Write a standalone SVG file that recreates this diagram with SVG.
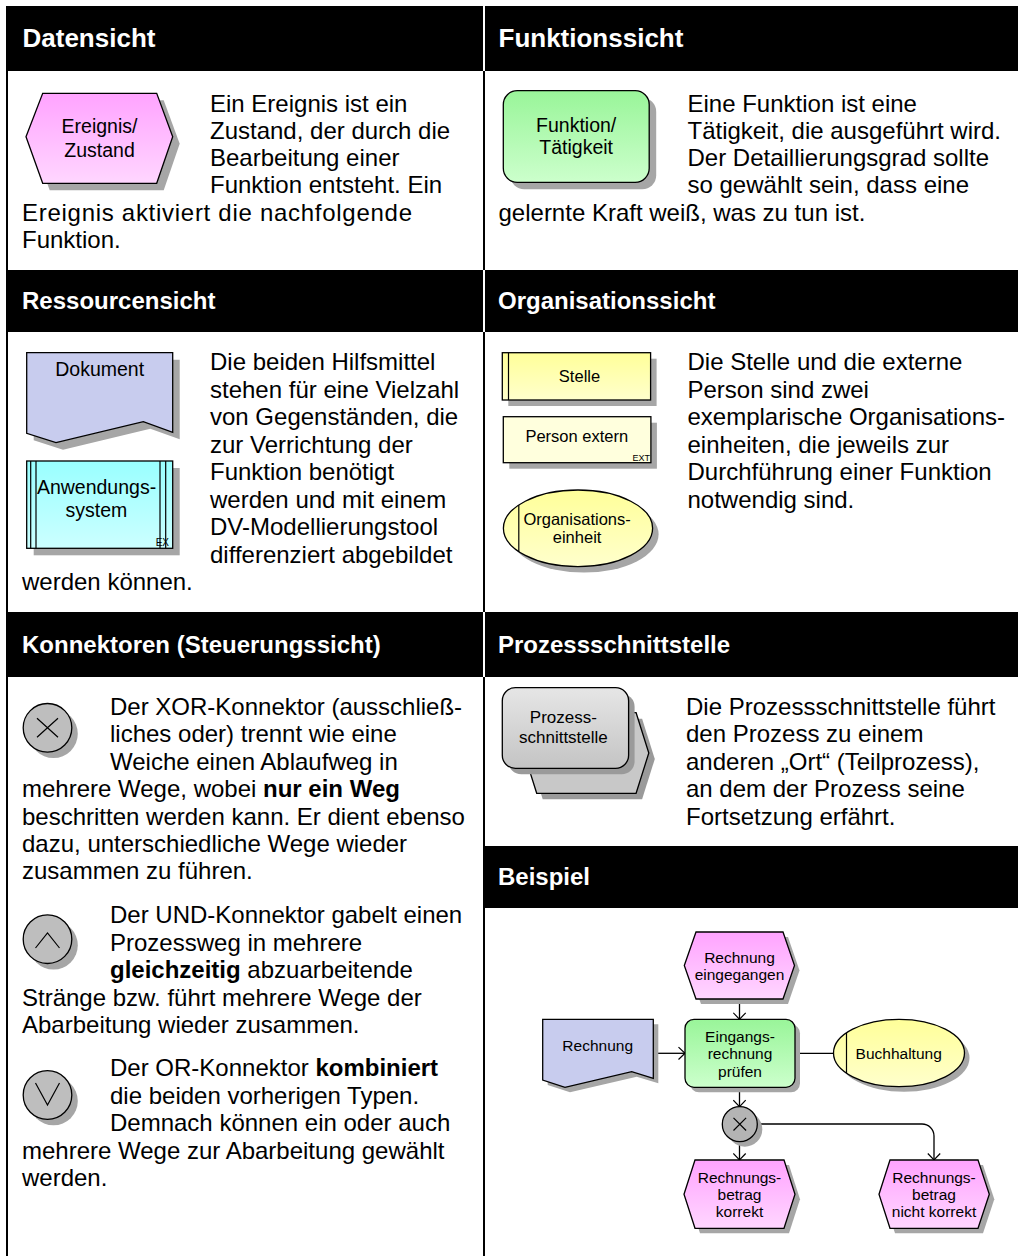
<svg xmlns="http://www.w3.org/2000/svg" width="1018" height="1256" viewBox="0 0 1018 1256">
<style>
text{font-family:"Liberation Sans",Arial,Helvetica,sans-serif;fill:#000}
.hd{font-size:24px;font-weight:bold;fill:#fff}
.hd1{font-size:26px}
.bd{font-size:24px}
.b{font-weight:bold}
.lb{font-size:19.5px;text-anchor:middle}
.lo{font-size:16.5px;text-anchor:middle}
.lp{font-size:17px;text-anchor:middle}
.lx{font-size:15.5px;text-anchor:middle}
.tiny{font-size:10px;text-anchor:end}
.sh{fill:#a6a6a6}
.sh2{fill:#9a9a9a}
.ol{stroke:#000;stroke-width:1.3}
.ln{stroke:#000;stroke-width:1.2;fill:none}
.cn{stroke:#000;stroke-width:1.3;fill:none}
.hb{fill:#000}
</style>
<defs>
<linearGradient id="gEv" x1="0" y1="0" x2="0" y2="1"><stop offset="0" stop-color="#ffa3ff"/><stop offset="1" stop-color="#ffd6ff"/></linearGradient>
<linearGradient id="gFn" x1="0" y1="0" x2="0" y2="1"><stop offset="0" stop-color="#99f599"/><stop offset="1" stop-color="#ccffcc"/></linearGradient>
<linearGradient id="gAp" x1="0" y1="0" x2="0" y2="1"><stop offset="0" stop-color="#99ffff"/><stop offset="1" stop-color="#ccffff"/></linearGradient>
<linearGradient id="gOr" x1="0" y1="0" x2="0" y2="1"><stop offset="0" stop-color="#ffff99"/><stop offset="1" stop-color="#ffffcc"/></linearGradient>
<linearGradient id="gPr" x1="0" y1="0" x2="0" y2="1"><stop offset="0" stop-color="#e6e6e6"/><stop offset="1" stop-color="#c4c4c4"/></linearGradient>
<marker id="arr" viewBox="0 0 8 14" refX="7.5" refY="7" markerWidth="8" markerHeight="14" markerUnits="userSpaceOnUse" orient="auto">
<path d="M1,0.8 L7.5,7 L1,13.2" fill="none" stroke="#000" stroke-width="1.2"/>
</marker>
</defs>

<rect width="1018" height="1256" fill="#fff"/>

<g id="frame">
<rect x="6" y="6" width="2" height="1250" class="hb"/>
<rect x="483" y="71" width="2" height="199" class="hb"/>
<rect x="483" y="332" width="2" height="280" class="hb"/>
<rect x="483" y="677" width="2" height="579" class="hb"/>
</g>

<g id="headers">
<rect x="6" y="6" width="477" height="65" class="hb"/>
<rect x="485" y="6" width="533" height="65" class="hb"/>
<rect x="6" y="270" width="477" height="62" class="hb"/>
<rect x="485" y="270" width="533" height="62" class="hb"/>
<rect x="6" y="612" width="477" height="65" class="hb"/>
<rect x="485" y="612" width="533" height="65" class="hb"/>
<rect x="485" y="846" width="533" height="62" class="hb"/>
<text class="hd hd1" x="22.5" y="47.3">Datensicht</text>
<text class="hd hd1" x="498.5" y="47.3">Funktionssicht</text>
<text class="hd" x="22" y="309">Ressourcensicht</text>
<text class="hd" x="498" y="309">Organisationssicht</text>
<text class="hd" x="22" y="653">Konnektoren (Steuerungssicht)</text>
<text class="hd" x="498" y="653">Prozessschnittstelle</text>
<text class="hd" x="498" y="885">Beispiel</text>
</g>

<!-- Datensicht -->
<g id="node-ereignis">
<polygon class="sh" points="33,143.7 49.7,100.3 163.7,100.3 179.7,143.7 163.7,190.3 49.7,190.3"/>
<polygon class="ol" fill="url(#gEv)" points="26,136.7 42.7,93.3 156.7,93.3 172.7,136.7 156.7,183.3 42.7,183.3"/>
<text class="lb" x="99.5" y="133">Ereignis/</text>
<text class="lb" x="99.5" y="156.5">Zustand</text>
</g>
<g id="text-datensicht">
<text class="bd" x="210" y="111.5">Ein Ereignis ist ein</text>
<text class="bd" x="210" y="138.8">Zustand, der durch die</text>
<text class="bd" x="210" y="166.1">Bearbeitung einer</text>
<text class="bd" x="210" y="193.4">Funktion entsteht. Ein</text>
<text class="bd" x="22" y="220.7" textLength="390" lengthAdjust="spacing">Ereignis aktiviert die nachfolgende</text>
<text class="bd" x="22" y="248">Funktion.</text>
</g>

<!-- Funktionssicht -->
<g id="node-funktion">
<rect class="sh" x="510.3" y="97.7" width="145.9" height="91.6" rx="14"/>
<rect class="ol" fill="url(#gFn)" x="503.3" y="90.7" width="145.9" height="91.6" rx="14"/>
<text class="lb" x="576.2" y="131.7">Funktion/</text>
<text class="lb" x="576.2" y="154">Tätigkeit</text>
</g>
<g id="text-funktionssicht">
<text class="bd" x="687.5" y="111.5">Eine Funktion ist eine</text>
<text class="bd" x="687.5" y="138.8">Tätigkeit, die ausgeführt wird.</text>
<text class="bd" x="687.5" y="166.1">Der Detaillierungsgrad sollte</text>
<text class="bd" x="687.5" y="193.4">so gewählt sein, dass eine</text>
<text class="bd" x="498.5" y="220.7">gelernte Kraft weiß, was zu tun ist.</text>
</g>

<!-- Ressourcensicht -->
<g id="node-dokument">
<path class="sh" d="M33.7,359.7 H179.7 V439.3 L150.3,428.7 L63,449.7 L33.7,440.3 Z"/>
<path class="ol" fill="#c8ccee" d="M26.7,352.7 H172.7 V432.3 L143.3,421.7 L56,442.7 L26.7,433.3 Z"/>
<text class="lb" x="99.7" y="376">Dokument</text>
</g>
<g id="node-anwendungssystem">
<rect class="sh" x="33.7" y="468" width="146" height="87.3"/>
<rect class="ol" fill="url(#gAp)" x="26.7" y="461" width="146" height="87.3"/>
<path class="ln" d="M30.7,461 V548.3 M36,461 V548.3 M160,461 V548.3 M165.7,461 V548.3"/>
<text class="lb" x="96.5" y="494">Anwendungs-</text>
<text class="lb" x="96.5" y="516.7">system</text>
<text class="tiny" x="169" y="546">EX</text>
</g>
<g id="text-ressourcensicht">
<text class="bd" x="210" y="370">Die beiden Hilfsmittel</text>
<text class="bd" x="210" y="397.5">stehen für eine Vielzahl</text>
<text class="bd" x="210" y="425">von Gegenständen, die</text>
<text class="bd" x="210" y="452.5">zur Verrichtung der</text>
<text class="bd" x="210" y="480">Funktion benötigt</text>
<text class="bd" x="210" y="507.5">werden und mit einem</text>
<text class="bd" x="210" y="535">DV-Modellierungstool</text>
<text class="bd" x="210" y="562.5">differenziert abgebildet</text>
<text class="bd" x="22" y="590">werden können.</text>
</g>

<!-- Organisationssicht -->
<g id="node-stelle">
<rect class="sh" x="508.3" y="358.7" width="148.3" height="47.3"/>
<rect class="ol" fill="url(#gOr)" x="502.3" y="352.7" width="148.3" height="47.3"/>
<path class="ln" d="M508.5,352.7 V400"/>
<text class="lo" x="579.5" y="382.3">Stelle</text>
</g>
<g id="node-person-extern">
<rect class="sh" x="509.3" y="422.7" width="147.6" height="46"/>
<rect class="ol" fill="#ffffdd" x="503.3" y="416.7" width="147.6" height="46"/>
<text class="lo" x="576.8" y="441.7">Person extern</text>
<text class="tiny" x="650" y="461" style="font-size:9px">EXT</text>
</g>
<g id="node-organisationseinheit">
<ellipse class="sh" cx="584" cy="534.3" rx="74.6" ry="38.3"/>
<ellipse class="ol" fill="url(#gOr)" cx="578" cy="528.3" rx="74.6" ry="38.3"/>
<path class="ln" d="M518.8,505 V551.6"/>
<text class="lo" x="577.1" y="525">Organisations-</text>
<text class="lo" x="577.1" y="543.3">einheit</text>
</g>
<g id="text-organisationssicht">
<text class="bd" x="687.5" y="370">Die Stelle und die externe</text>
<text class="bd" x="687.5" y="397.5">Person sind zwei</text>
<text class="bd" x="687.5" y="425">exemplarische Organisations-</text>
<text class="bd" x="687.5" y="452.5">einheiten, die jeweils zur</text>
<text class="bd" x="687.5" y="480">Durchführung einer Funktion</text>
<text class="bd" x="687.5" y="507.5">notwendig sind.</text>
</g>

<!-- Konnektoren -->
<g id="node-xor">
<circle class="sh" cx="53.5" cy="733.8" r="24.3"/>
<circle class="ol" fill="#bebebe" cx="47.5" cy="727.8" r="24.3"/>
<path class="ln" d="M37,718.3 L58,737.3 M58,718.3 L37,737.3"/>
</g>
<g id="text-xor">
<text class="bd" x="110" y="715">Der XOR-Konnektor (ausschließ-</text>
<text class="bd" x="110" y="742.4">liches oder) trennt wie eine</text>
<text class="bd" x="110" y="769.8">Weiche einen Ablaufweg in</text>
<text class="bd" x="22" y="797.2">mehrere Wege, wobei <tspan class="b">nur ein Weg</tspan></text>
<text class="bd" x="22" y="824.6">beschritten werden kann. Er dient ebenso</text>
<text class="bd" x="22" y="852">dazu, unterschiedliche Wege wieder</text>
<text class="bd" x="22" y="879.4">zusammen zu führen.</text>
</g>
<g id="node-und">
<circle class="sh" cx="53.5" cy="945.2" r="24.3"/>
<circle class="ol" fill="#bebebe" cx="47.5" cy="939.2" r="24.3"/>
<path class="ln" d="M35.5,948 L47.5,933 L59.5,948"/>
</g>
<g id="text-und">
<text class="bd" x="110" y="923.3">Der UND-Konnektor gabelt einen</text>
<text class="bd" x="110" y="950.7">Prozessweg in mehrere</text>
<text class="bd" x="110" y="978.1"><tspan class="b">gleichzeitig</tspan> abzuarbeitende</text>
<text class="bd" x="22" y="1005.5">Stränge bzw. führt mehrere Wege der</text>
<text class="bd" x="22" y="1032.9">Abarbeitung wieder zusammen.</text>
</g>
<g id="node-or">
<circle class="sh" cx="53.5" cy="1101" r="24.3"/>
<circle class="ol" fill="#bebebe" cx="47.5" cy="1095" r="24.3"/>
<path class="ln" d="M35.5,1083 L47.5,1105 L59.5,1083"/>
</g>
<g id="text-or">
<text class="bd" x="110" y="1076">Der OR-Konnektor <tspan class="b">kombiniert</tspan></text>
<text class="bd" x="110" y="1103.5">die beiden vorherigen Typen.</text>
<text class="bd" x="110" y="1131">Demnach können ein oder auch</text>
<text class="bd" x="22" y="1158.5">mehrere Wege zur Abarbeitung gewählt</text>
<text class="bd" x="22" y="1186">werden.</text>
</g>

<!-- Prozessschnittstelle -->
<g id="node-prozessschnittstelle">
<polygon class="sh2" points="530,759 542.7,718.7 642.1,718.7 654.8,759 642.1,799.3 542.7,799.3"/>
<polygon class="ol" fill="#c8c8c8" points="524,753 536.7,712.7 636.1,712.7 648.8,753 636.1,793.3 536.7,793.3"/>
<rect class="sh2" x="508.3" y="693.7" width="126.3" height="80.6" rx="13"/>
<rect class="ol" fill="url(#gPr)" x="502.3" y="687.7" width="126.3" height="80.6" rx="13"/>
<text class="lp" x="563.4" y="722.7">Prozess-</text>
<text class="lp" x="563.4" y="742.7">schnittstelle</text>
</g>
<g id="text-prozessschnittstelle">
<text class="bd" x="686" y="715">Die Prozessschnittstelle führt</text>
<text class="bd" x="686" y="742.4">den Prozess zu einem</text>
<text class="bd" x="686" y="769.8">anderen „Ort“ (Teilprozess),</text>
<text class="bd" x="686" y="797.2">an dem der Prozess seine</text>
<text class="bd" x="686" y="824.6">Fortsetzung erfährt.</text>
</g>

<!-- Beispiel -->
<g id="connectors">
<path class="cn" d="M739.5,999 V1019.3" marker-end="url(#arr)"/>
<path class="cn" d="M653.3,1053.3 H685" marker-end="url(#arr)"/>
<path class="cn" d="M795,1053.3 H833.5"/>
<path class="cn" d="M739.5,1087.3 V1106.7" marker-end="url(#arr)"/>
<path class="cn" d="M739.5,1141.7 V1160" marker-end="url(#arr)"/>
<path class="cn" d="M757.3,1124 H922 A12,12 0 0 1 934,1136 V1160" marker-end="url(#arr)"/>
</g>
<g id="ex-event-eingegangen">
<polygon class="sh" points="689.3,970.5 701,937 788,937 799.5,970.5 788,1004 701,1004"/>
<polygon class="ol" fill="url(#gEv)" points="684.3,965.5 696,932 783,932 794.5,965.5 783,999 696,999"/>
<text class="lx" x="739.5" y="962.7">Rechnung</text>
<text class="lx" x="739.5" y="979.5">eingegangen</text>
</g>
<g id="ex-dokument-rechnung">
<path class="sh" d="M547.7,1024.3 H658.3 V1083.3 L636.7,1076.7 L570,1092.3 L547.7,1085 Z"/>
<path class="ol" fill="#c8ccee" d="M542.7,1019.3 H653.3 V1078.3 L631.7,1071.7 L565,1087.3 L542.7,1080 Z"/>
<text class="lx" x="597.7" y="1050.7">Rechnung</text>
</g>
<g id="ex-funktion-pruefen">
<rect class="sh" x="690" y="1024.3" width="110" height="68" rx="9"/>
<rect class="ol" fill="url(#gFn)" x="685" y="1019.3" width="110" height="68" rx="9"/>
<text class="lx" x="740" y="1041.5">Eingangs-</text>
<text class="lx" x="740" y="1059.2">rechnung</text>
<text class="lx" x="740" y="1076.8">prüfen</text>
</g>
<g id="ex-org-buchhaltung">
<ellipse class="sh" cx="904" cy="1058" rx="65.5" ry="33.7"/>
<ellipse class="ol" fill="url(#gOr)" cx="899" cy="1053" rx="65.5" ry="33.7"/>
<path class="ln" d="M846.5,1032.8 V1073.2"/>
<text class="lx" x="898.7" y="1059.3">Buchhaltung</text>
</g>
<g id="ex-xor">
<circle class="sh" cx="744.8" cy="1129.2" r="17.5"/>
<circle class="ol" fill="#b4b4b4" cx="739.8" cy="1124.2" r="17.5"/>
<path class="ln" d="M733.5,1117.9 L746.1,1130.5 M746.1,1117.9 L733.5,1130.5"/>
</g>
<g id="ex-event-korrekt">
<polygon class="sh" points="689,1199.2 700,1165 789,1165 800,1199.2 789,1233.3 700,1233.3"/>
<polygon class="ol" fill="url(#gEv)" points="684,1194.2 695,1160 784,1160 795,1194.2 784,1228.3 695,1228.3"/>
<text class="lx" x="739.5" y="1182.7">Rechnungs-</text>
<text class="lx" x="739.5" y="1199.7">betrag</text>
<text class="lx" x="739.5" y="1217">korrekt</text>
</g>
<g id="ex-event-nicht-korrekt">
<polygon class="sh" points="884,1199.2 895,1165 983,1165 994.3,1199.2 983,1233.3 895,1233.3"/>
<polygon class="ol" fill="url(#gEv)" points="879,1194.2 890,1160 978,1160 989.3,1194.2 978,1228.3 890,1228.3"/>
<text class="lx" x="934" y="1182.7">Rechnungs-</text>
<text class="lx" x="934" y="1199.7">betrag</text>
<text class="lx" x="934" y="1217">nicht korrekt</text>
</g>
</svg>
